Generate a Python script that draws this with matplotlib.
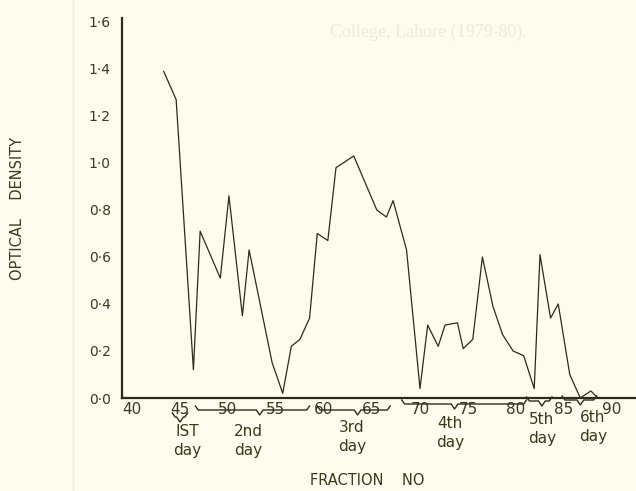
import matplotlib
matplotlib.use("Agg")
import matplotlib.pyplot as plt
from matplotlib.lines import Line2D
import matplotlib.transforms as mtransforms

# fraction number vs optical density
fractions = [43.3, 44.6, 46.4, 47.1, 49.2, 50.1, 51.5, 52.2, 54.6, 55.7,
             56.6, 57.5, 58.5, 59.3, 60.4, 61.25, 63.1, 65.5, 66.5, 67.2,
             68.6, 70.0, 70.8, 71.9, 72.6, 73.9, 74.5, 75.5, 76.5, 77.6,
             78.6, 79.7, 80.8, 81.9, 82.5, 83.6, 84.4, 85.6, 86.7, 87.8, 88.5]
density = [1.39, 1.27, 0.12, 0.71, 0.51, 0.86, 0.35, 0.63, 0.15, 0.02,
           0.22, 0.25, 0.34, 0.70, 0.67, 0.98, 1.03, 0.80, 0.77, 0.84,
           0.63, 0.04, 0.31, 0.22, 0.31, 0.32, 0.21, 0.25, 0.60, 0.39,
           0.27, 0.20, 0.18, 0.04, 0.61, 0.34, 0.40, 0.10, 0.0, 0.03, 0.0]

x_ticks = [40, 45, 50, 55, 60, 65, 70, 75, 80, 85, 90]
y_ticks = [0.0, 0.2, 0.4, 0.6, 0.8, 1.0, 1.2, 1.4, 1.6]
y_tick_labels = ["0·0", "0·2", "0·4", "0·6", "0·8", "1·0", "1·2", "1·4", "1·6"]

day_labels = ["IST", "2nd", "3rd", "4th", "5th", "6th"]
# brace: start fraction, end fraction, tip fraction
day_braces = [(44.2, 45.8, 45.0), (46.6, 58.5, 53.3), (59.3, 66.9, 63.5),
              (68.1, 81.1, 73.6), (81.1, 83.75, 82.7), (84.8, 88.4, 86.7)]

W, H = 636, 491
BG = "#fcfcef"
INK = "#2d2b1e"
TXT = "#3a3a1c"

fig = plt.figure(figsize=(W / 100, H / 100), dpi=100, facecolor=BG)
ax = fig.add_axes([122 / W, 93 / H, 514 / W, 380 / H])
ax.set_facecolor(BG)

ax.plot(fractions, density, color=INK, lw=0.9)

ax.set_xlim(38.96, 92.5)
ax.set_ylim(0, 1.617)
for s in ["top", "right"]:
    ax.spines[s].set_visible(False)
for s in ["left", "bottom"]:
    ax.spines[s].set_color(INK)
    ax.spines[s].set_linewidth(1.6)

ax.set_xticks(x_ticks)
ax.set_xticklabels([str(t) for t in x_ticks])
ax.set_yticks(y_ticks)
ax.set_yticklabels(y_tick_labels)
ax.tick_params(axis="x", length=0, pad=3, labelsize=11, labelcolor=TXT)
ax.tick_params(axis="y", length=0, pad=8, labelsize=10, labelcolor=TXT)

ax.set_ylabel("OPTICAL    DENSITY", fontsize=10.5, color=TXT)
ax.yaxis.set_label_coords(-0.189, 0.5)
ax.set_xlabel("FRACTION    NO", fontsize=10.5, color=TXT)
ax.xaxis.set_label_coords(0.477, -0.198)

# braces under the axis grouping fractions into days
trans = mtransforms.blended_transform_factory(ax.transData, fig.transFigure)
brace_y = [417, 410, 410, 404, 401, 400]
for (x0, x1, tip), py in zip(day_braces, brace_y):
    ys = [py - 4, py, py, py + 5, py, py, py - 4]
    xs = [x0, x0 + 0.3, tip - 0.35, tip, tip + 0.35, x1 - 0.3, x1]
    ax.add_line(Line2D(xs, [1 - v / H for v in ys], transform=trans,
                       color=INK, lw=1.0, clip_on=False,
                       solid_joinstyle="round"))

# day names (pixel positions of the hand lettering)
day_pos = [(187, 432, 450), (248, 432, 450), (352, 428, 446),
           (450, 423, 442), (542, 420, 438), (593, 418, 437)]
for lab, (px, py1, py2) in zip(day_labels, day_pos):
    fig.text(px / W, 1 - py1 / H, lab, ha="center", va="center",
             fontsize=11, color=TXT)
    fig.text(px / W, 1 - py2 / H, "day", ha="center", va="center",
             fontsize=11, color=TXT)

# faint show-through from the facing page and page edge
fig.text(428 / W, 1 - 32 / H, "College, Lahore (1979-80).", ha="center",
         va="center", fontsize=13, family="Liberation Serif", color="#ececdc")
fig.add_artist(Line2D([73 / W, 73 / W], [0, 1], transform=fig.transFigure,
                      color="#efefc8", lw=1))

fig.savefig("out.png", dpi=100, facecolor=BG)
